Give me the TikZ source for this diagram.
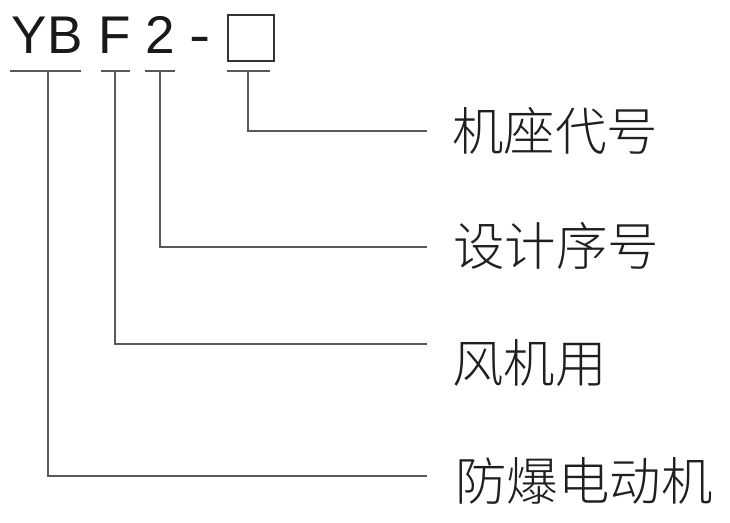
\documentclass[tikz,border=0pt]{standalone}
\usepackage{fontspec}
\setmainfont{Liberation Sans}
\newfontfamily\cjk{Noto Sans CJK SC Light}
\usetikzlibrary{positioning}

\begin{document}
\begin{tikzpicture}[
    x=0.75pt, y=-0.75pt,
    codepart/.style={
        inner sep=0pt,
        anchor=base,
        text=black!90,
        font=\fontsize{39.8}{40}\selectfont
    },
    codebox/.style={
        rectangle,
        draw=black!80,
        line width=1.1pt,
        minimum size=34.5pt,
        inner sep=0pt
    },
    meaning/.style={
        anchor=west,
        inner sep=0pt,
        text=black!88,
        font=\cjk\fontsize{38.6}{39}\selectfont
    },
    underline/.style={draw=black!65, line width=1.1pt},
    line/.style={draw=black!65, line width=1.1pt}
]
\useasboundingbox (0,0) rectangle (730,522);

% Model code
\node [codepart] (yb) at (47,53) {YB};
\node [codepart] (fan) at (115,53) {F};
\node [codepart] (design) at (160,53) {2};
\node [codepart, xscale=1.2] (dash) at (200,53) {-};
\node [codebox] (frame) at (251,38) {};

% Underlines
\coordinate (u yb) at (48,71);
\coordinate (u fan) at (115,71);
\coordinate (u design) at (160,71);
\coordinate (u frame) at (248,71);
\draw [underline] (10,71) -- (81,71);
\draw [underline] (101,71) -- (130,71);
\draw [underline] (145,71) -- (175,71);
\draw [underline] (227,71) -- (270,71);

% Line ends
\coordinate (e frame) at (427,131);
\coordinate (e design) at (427,247);
\coordinate (e fan) at (427,344);
\coordinate (e yb) at (427,476);

% Meanings
\node [meaning] (frame text) at (452,131) {机座代号};
\node [meaning] (design text) at (453,246) {设计序号};
\node [meaning] (fan text) at (452,363) {风机用};
\node [meaning] (yb text) at (455,481) {防爆电动机};

% Connections
\draw [line] (u frame) |- (e frame);
\draw [line] (u design) |- (e design);
\draw [line] (u fan) |- (e fan);
\draw [line] (u yb) |- (e yb);

\end{tikzpicture}
\end{document}
